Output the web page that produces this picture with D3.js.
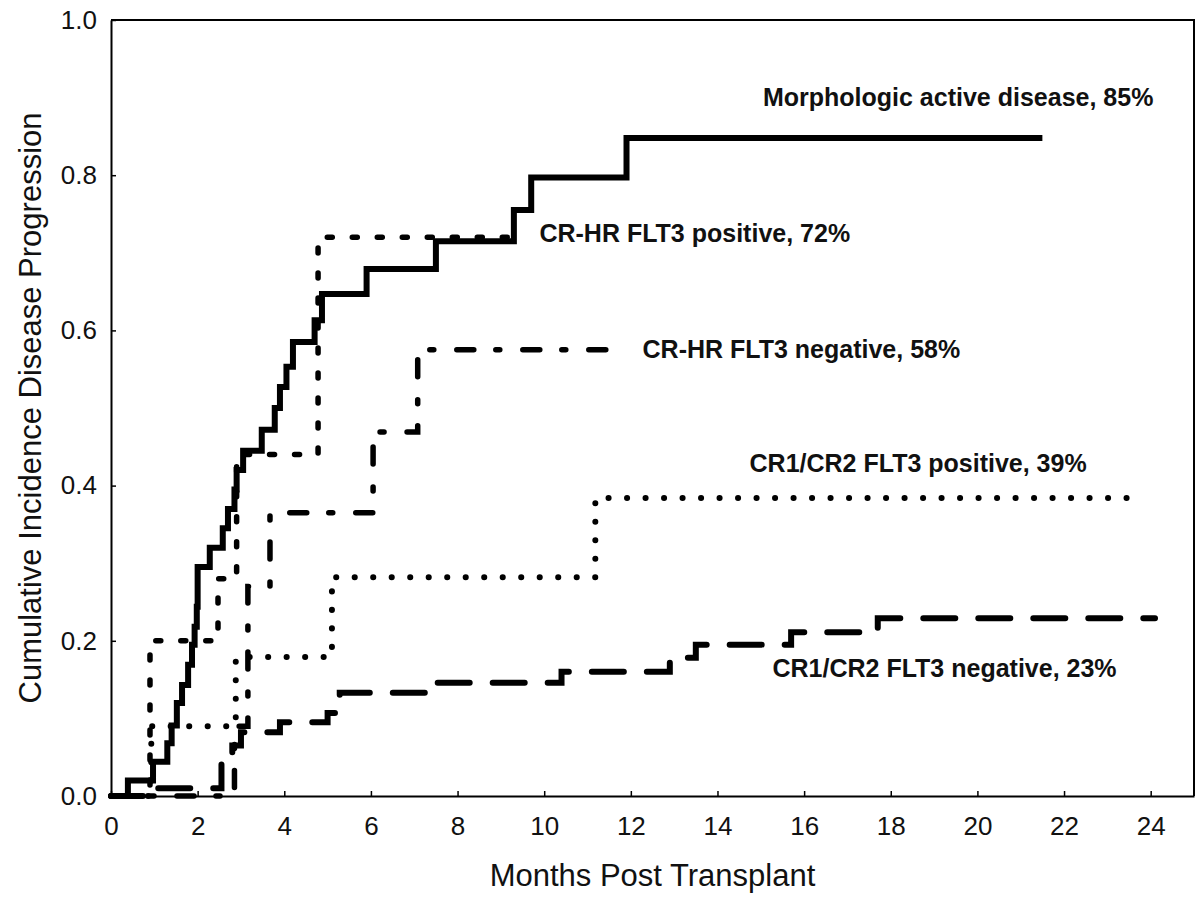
<!DOCTYPE html>
<html>
<head>
<meta charset="utf-8">
<script src="https://cdn.jsdelivr.net/npm/d3@7"></script>
<style>
  body { margin: 0; background: #fff; }
</style>
</head>
<body>
<svg class="chart"></svg>
<script>
// ----- Data -----
// months post transplant and cumulative incidence for each group (step functions)
let morphMonths = [0, 0.39, 0.97, 1.3, 1.4, 1.52, 1.64, 1.78, 1.87, 1.93, 1.98, 2.0, 2.28, 2.58, 2.7, 2.85, 2.9, 3.05, 3.48, 3.78, 3.9, 4.05, 4.2, 4.7, 4.87, 5.9, 7.5, 9.3, 9.7, 11.9, 21.5]
let morphValues = [0, 0.02, 0.044, 0.068, 0.091, 0.12, 0.143, 0.169, 0.195, 0.218, 0.244, 0.295, 0.32, 0.345, 0.37, 0.395, 0.42, 0.445, 0.472, 0.5, 0.527, 0.553, 0.585, 0.613, 0.647, 0.679, 0.715, 0.755, 0.797, 0.848, 0.848]

let hrPosMonths = [0, 0.9, 2.47, 2.9, 4.78, 9.3]
let hrPosValues = [0, 0.2, 0.28, 0.44, 0.72, 0.72]

let hrNegMonths = [0, 2.85, 3.16, 3.67, 6.05, 7.08, 11.9]
let hrNegValues = [0, 0.09, 0.27, 0.365, 0.469, 0.575, 0.575]

let crPosMonths = [0, 0.93, 2.88, 5.1, 11.18, 23.7]
let crPosValues = [0, 0.09, 0.179, 0.282, 0.384, 0.384]

let crNegMonths = [0, 1.0, 2.55, 2.8, 3.0, 3.9, 5.0, 5.28, 7.3, 10.4, 12.9, 13.5, 15.7, 17.7, 24.1]
let crNegValues = [0, 0.01, 0.045, 0.065, 0.082, 0.095, 0.107, 0.133, 0.146, 0.16, 0.178, 0.195, 0.211, 0.229, 0.229]

let labelTexts = ['Morphologic active disease, 85%', 'CR-HR FLT3 positive, 72%', 'CR-HR FLT3 negative, 58%', 'CR1/CR2 FLT3 positive, 39%', 'CR1/CR2 FLT3 negative, 23%']
let labelMonths = [15.05, 9.89, 12.27, 14.74, 15.27]
let labelValues = [0.889, 0.714, 0.564, 0.4175, 0.153]

let xTicks = [0, 2, 4, 6, 8, 10, 12, 14, 16, 18, 20, 22, 24]
let yTicks = [0, 0.2, 0.4, 0.6, 0.8, 1.0]

// ----- SVG -----
let svgWidth = 1199
let svgHeight = 899
let margin = {top: 20, right: 5, bottom: 103, left: 111}
let fontFamily = 'Arial, "Liberation Sans", Helvetica, sans-serif'

let svg = d3.select('.chart')
            .attr('width', svgWidth)
            .attr('height', svgHeight)

let x = d3.scaleLinear().domain([0, 25]).range([margin.left, svgWidth - margin.right])
let y = d3.scaleLinear().domain([0, 1]).range([svgHeight - margin.bottom, margin.top])

// frame (top and right)
svg.append('path')
   .attr('d', 'M' + x(0) + ',' + y(1) + 'H' + x(25) + 'V' + y(0))
   .attr('fill', 'none')
   .attr('stroke', '#000')
   .attr('stroke-width', 2)

// Axes
let xAxis = svg.append('g')
   .attr('transform', 'translate(0,' + y(0) + ')')
   .call(d3.axisBottom(x).tickValues(xTicks).tickSizeInner(-5).tickSizeOuter(0).tickPadding(21))

let yAxis = svg.append('g')
   .attr('transform', 'translate(' + x(0) + ',0)')
   .call(d3.axisLeft(y).tickValues(yTicks).tickFormat(d3.format('.1f')).tickSizeInner(-5).tickSizeOuter(0).tickPadding(14))

svg.selectAll('.domain').attr('stroke-width', 2)
svg.selectAll('.tick line').attr('stroke-width', 1.5)
svg.selectAll('.tick text')
   .attr('font-family', fontFamily)
   .attr('font-size', '26px')
   .attr('fill', '#111')

// axis titles
svg.append('text')
   .attr('x', (x(0) + x(25)) / 2)
   .attr('y', 886)
   .attr('text-anchor', 'middle')
   .attr('font-family', fontFamily)
   .attr('font-size', '31px')
   .attr('fill', '#111')
   .text('Months Post Transplant')

svg.append('text')
   .attr('transform', 'translate(41,' + (y(0) + y(1)) / 2 + ') rotate(-90)')
   .attr('text-anchor', 'middle')
   .attr('font-family', fontFamily)
   .attr('font-size', '31px')
   .attr('fill', '#111')
   .text('Cumulative Incidence Disease Progression')

// ----- Curves -----
let line = d3.line()
             .x(function (d) { return x(d[0]) })
             .y(function (d) { return y(d[1]) })
             .curve(d3.curveStepAfter)

function drawCurve(months, values, width, dash, cap) {
    let points = d3.zip(months, values)
    svg.append('path')
       .datum(points)
       .attr('d', line)
       .attr('fill', 'none')
       .attr('stroke', '#000')
       .attr('stroke-width', width)
       .attr('stroke-dasharray', dash)
       .attr('stroke-linecap', cap)
       .attr('stroke-linejoin', 'miter')
}

drawCurve(crNegMonths, crNegValues, 6, '32,23', 'round')
drawCurve(crPosMonths, crPosValues, 6, '0.1,18.4', 'round')
drawCurve(hrNegMonths, hrNegValues, 5.5, '17,22,4,23', 'round')
drawCurve(hrPosMonths, hrPosValues, 5.5, '5,20', 'round')
drawCurve(morphMonths, morphValues, 6, null, 'butt')

// ----- Labels -----
svg.selectAll('.label')
   .data(labelTexts)
   .enter()
   .append('text')
   .attr('class', 'label')
   .attr('x', function (d, i) { return x(labelMonths[i]) })
   .attr('y', function (d, i) { return y(labelValues[i]) })
   .attr('font-family', fontFamily)
   .attr('font-size', '25px')
   .attr('font-weight', 'bold')
   .attr('fill', '#111')
   .text(function (d) { return d })
</script>
</body>
</html>
